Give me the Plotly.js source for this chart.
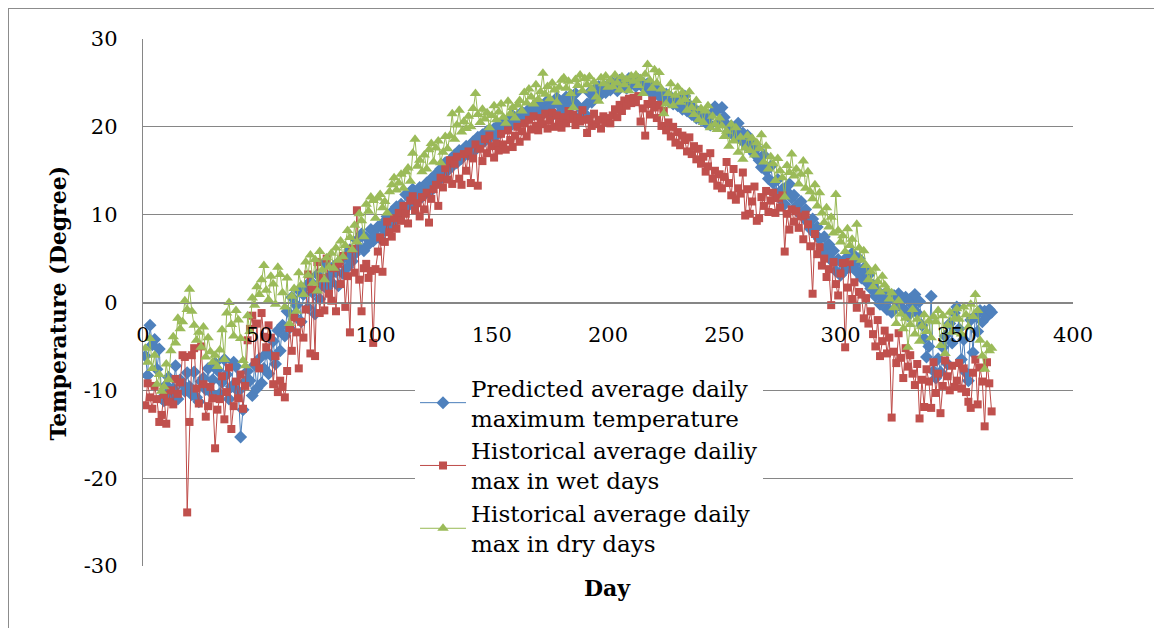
<!DOCTYPE html>
<html>
<head>
<meta charset="utf-8">
<script src="https://cdn.plot.ly/plotly-3.0.1.min.js"></script>
<style>
html,body{margin:0;padding:0;background:#fff;overflow:hidden;}
#frame{position:absolute;left:8px;top:8px;width:1160px;height:640px;border:1px solid #8c8c8c;box-sizing:border-box;}
#chart{position:absolute;left:0;top:0;width:1154px;height:628px;}
</style>
</head>
<body>
<div id="frame"></div>
<div id="chart"></div>
<script>
// Series values (days 1..365)
const predictedMax = [
-6.1,-8.3,-2.6,-4.8,-4.2,-7.6,-5.3,-10.9,-11.2,-9.4,
-8.5,-10.7,-9.8,-7.2,-11.0,-8.8,-9.3,-10.1,-8.0,-9.6,
-10.5,-7.9,-10.8,-11.3,-9.0,-8.6,-9.9,-7.5,-10.2,-8.8,
-6.9,-7.7,-10.4,-9.1,-6.5,-8.2,-11.0,-9.6,-6.8,-7.3,
-10.1,-15.3,-12.2,-9.0,-7.8,-8.9,-10.6,-7.1,-9.8,-6.4,
-9.2,-7.5,-5.8,-8.1,-6.0,-4.4,-7.0,-3.2,-5.5,-2.6,
-3.8,-1.0,-2.9,0.6,-1.5,-0.3,1.4,-2.2,0.9,1.8,
-0.6,2.4,1.1,-1.3,3.2,0.4,2.0,4.5,1.6,3.0,
2.3,4.1,3.5,1.9,4.8,3.3,5.2,4.0,6.0,4.7,
5.5,7.1,6.2,7.8,5.9,7.4,6.6,8.3,7.0,7.6,
8.6,7.3,9.0,8.2,9.8,8.8,10.3,9.2,10.9,9.6,
11.2,10.4,12.3,11.0,11.8,12.9,11.5,12.4,13.1,12.0,
12.8,13.6,12.5,14.1,13.3,14.6,13.8,15.2,14.4,15.9,
15.0,16.2,15.5,16.8,15.9,17.3,16.4,17.0,17.8,16.9,
17.6,18.3,17.4,18.8,18.0,19.1,18.4,19.5,18.7,19.2,
19.8,19.0,20.2,19.4,20.5,19.9,20.8,20.1,21.3,20.4,
21.0,20.6,21.7,20.9,21.4,22.0,21.2,22.3,21.6,22.8,
22.1,21.5,22.6,23.0,22.2,21.3,22.9,23.3,22.5,21.8,
22.7,23.4,22.0,23.6,22.9,23.8,22.4,21.2,22.0,21.5,
22.6,23.9,22.8,24.2,23.5,24.6,23.7,24.4,23.9,24.8,
24.2,25.0,24.5,24.1,25.3,24.7,25.1,24.4,25.5,24.9,
25.2,24.6,25.4,24.8,25.0,24.3,24.9,24.0,24.6,23.8,
24.3,23.5,24.0,23.2,23.7,22.9,23.4,22.6,23.1,22.4,
22.9,22.0,23.5,21.8,22.5,21.4,22.1,21.0,21.7,20.8,
21.3,20.5,21.0,20.2,21.6,22.3,21.9,20.6,22.2,21.1,
20.3,19.5,20.1,19.0,19.8,20.4,18.6,19.3,18.1,19.0,
17.5,18.3,16.9,17.6,16.2,15.4,16.8,15.0,14.1,15.5,
13.6,12.4,14.0,11.8,12.9,11.2,12.6,13.5,11.9,12.2,
11.0,10.2,11.5,9.8,10.6,9.1,8.4,9.5,7.8,8.6,
7.2,6.1,7.5,5.4,6.6,4.8,5.9,3.6,4.9,3.1,
4.4,3.7,5.2,4.0,5.6,4.3,3.5,5.0,2.8,3.9,
2.4,3.1,1.6,2.0,0.7,1.3,-0.2,0.5,1.0,-0.8,
0.3,-1.1,0.8,-0.5,1.0,0.2,-0.7,0.6,-1.5,0.4,
-0.3,0.9,-1.2,0.1,-2.6,-4.1,-6.2,-5.0,0.7,-7.8,
-8.6,-6.4,-7.9,-5.1,-3.8,-7.0,-2.4,-4.6,-1.2,-0.5,
-3.0,-6.5,-4.2,-8.0,-8.9,-2.0,-5.7,-1.5,-3.3,-0.9,
-2.2,-1.0,-1.6,-0.8,-1.1
];
const wetDaysMax = [
-11.7,-9.2,-10.8,-12.1,-9.5,-11.0,-13.6,-12.8,-10.5,-13.8,
-11.3,-10.0,-11.6,-8.7,-10.4,-9.1,-6.0,-6.2,-23.9,-13.6,
-6.0,-5.2,-9.8,-11.5,-5.0,-9.3,-13.0,-11.8,-9.6,-10.9,
-16.6,-12.2,-11.0,-8.4,-13.3,-10.2,-7.4,-14.4,-11.8,-9.0,
-10.9,-8.2,-12.1,-9.5,-4.3,-3.0,-1.5,-6.8,-2.4,-7.5,
-1.2,-3.9,-5.1,-2.6,-4.0,-9.3,-6.1,-10.2,-8.9,-9.6,
-10.8,-7.8,-2.9,-5.5,-1.7,-3.4,-7.5,-2.2,-4.0,-0.8,
3.2,-5.8,1.5,-6.1,4.6,-1.2,2.8,-0.9,5.0,1.0,
0.2,3.9,-1.0,4.4,2.1,5.3,-0.5,3.0,-3.4,6.1,
3.4,10.5,2.6,-1.0,3.9,4.4,2.8,3.6,-4.6,3.8,
5.8,7.4,3.5,6.9,9.2,8.0,7.5,9.6,8.4,10.2,
9.3,11.0,10.1,9.0,11.6,12.1,10.5,11.3,9.8,12.0,
10.6,12.5,9.1,11.8,12.9,13.4,11.0,14.2,13.1,15.3,
14.0,16.2,13.5,15.8,16.6,14.1,13.4,16.9,15.0,17.2,
13.6,16.4,18.0,13.3,17.5,16.1,18.6,17.0,19.0,17.8,
16.5,18.1,17.3,19.2,18.0,17.4,19.6,18.5,17.7,19.0,
20.0,18.3,19.5,20.4,18.9,20.8,19.7,21.2,20.1,19.6,
21.0,20.3,21.5,19.8,20.7,21.6,20.0,21.3,20.5,19.9,
21.1,20.4,21.8,20.9,21.4,20.2,21.0,20.6,21.9,20.8,
19.3,20.9,20.1,21.5,20.3,20.8,19.8,21.2,20.5,21.0,
20.4,21.3,22.0,21.1,22.5,21.8,23.0,22.4,23.2,22.7,
23.3,22.8,23.5,20.6,22.1,19.0,22.6,21.4,23.0,22.2,
21.0,22.5,20.1,21.8,19.6,20.5,18.9,20.0,18.2,19.4,
17.9,19.0,18.5,17.2,18.8,16.9,17.8,16.3,17.5,15.8,
16.6,14.9,15.5,17.0,14.1,15.0,13.3,14.6,13.0,14.3,
16.0,13.6,12.2,15.2,11.7,13.0,12.4,14.8,9.9,12.9,
10.1,11.5,13.2,9.3,9.6,12.0,11.0,12.7,10.3,11.6,
12.5,10.2,11.9,10.8,12.2,5.8,10.1,8.3,10.6,9.2,
10.4,8.5,9.8,7.2,10.0,8.9,6.4,1.0,7.8,5.5,
6.3,4.2,5.0,2.9,3.8,-0.3,4.6,2.1,0.8,3.3,
4.5,-5.1,1.7,4.6,0.4,2.3,-0.6,1.2,0.9,-1.8,
0.5,-2.4,-1.0,-3.6,-5.0,-2.0,-6.1,-4.4,-3.2,-5.8,
-4.0,-13.1,-5.6,-6.9,-3.5,-6.3,-8.6,-5.2,-7.3,-6.0,
-8.1,-9.4,-7.0,-13.2,-8.8,-11.9,-7.6,-9.0,-12.0,-6.8,
-10.3,-8.1,-12.6,-9.5,-6.6,-8.4,-10.0,-7.2,-9.6,-8.9,
-6.9,-9.8,-7.5,-10.2,-11.3,-12.0,-8.0,-6.5,-11.6,-7.4,
-9.0,-14.1,-6.8,-9.2,-12.4
];
const dryDaysMax = [
-5.2,-6.8,-4.1,-7.5,-6.0,-9.3,-8.2,-10.1,-9.6,-7.0,
-8.8,-5.5,-3.9,-4.6,-1.8,-3.0,-2.2,0.2,-0.8,1.5,
-1.0,-2.6,-4.3,-3.4,-5.1,-2.8,-6.2,-4.0,-5.6,-6.8,
-6.0,-7.3,-5.4,-3.1,-6.5,-1.2,0.0,-2.5,-3.8,-0.9,
-2.0,-4.1,-6.6,-7.2,-1.5,-3.3,0.5,-0.3,1.8,0.9,
2.6,4.2,1.4,0.3,3.0,2.1,-0.2,4.0,3.2,1.1,
-0.5,2.8,-2.4,0.7,1.6,-1.0,3.4,2.0,0.9,4.6,
3.1,5.4,2.2,4.9,1.3,5.8,3.7,2.6,5.1,4.0,
5.6,3.9,6.2,4.8,7.0,5.2,6.5,8.2,7.4,6.0,
8.8,6.9,10.1,9.3,7.5,11.2,10.4,12.0,11.6,9.6,
11.9,12.3,10.8,11.5,10.2,12.6,13.4,14.2,12.8,13.6,
14.6,13.0,14.9,15.3,13.8,17.0,18.6,15.5,16.2,14.9,
16.8,15.2,17.4,18.1,16.0,17.6,18.4,15.9,17.1,18.9,
17.5,19.0,21.5,18.6,20.2,21.9,19.4,20.6,19.8,21.2,
20.0,22.1,23.8,21.4,20.5,22.0,20.9,21.6,19.9,21.3,
22.4,20.8,21.7,22.6,21.1,20.4,22.9,21.5,22.2,21.0,
22.5,23.0,21.8,23.9,22.7,24.3,23.4,22.6,24.8,23.1,
24.0,26.1,23.7,24.6,23.2,25.0,24.2,22.8,24.5,25.3,
25.6,24.4,25.2,23.8,22.2,25.4,24.7,25.9,24.1,25.5,
24.8,25.7,24.3,25.1,23.4,22.9,25.6,24.9,25.8,24.5,
25.3,24.6,25.9,25.0,24.2,25.7,24.8,25.4,24.1,25.8,
25.2,25.9,24.7,25.5,23.8,26.0,27.1,25.3,24.4,26.5,
25.0,26.2,24.3,21.5,22.6,23.8,24.9,22.4,23.6,24.5,
22.8,23.9,23.1,21.9,24.0,22.2,21.4,23.0,20.8,22.1,
20.5,21.8,22.4,19.9,21.2,20.3,19.7,21.0,20.1,18.9,
19.5,17.8,20.3,18.4,19.9,17.1,18.8,16.3,17.6,19.0,
17.3,18.7,16.8,18.2,17.5,19.1,16.0,17.8,15.2,16.6,
15.8,13.9,16.4,15.0,14.2,12.0,15.6,14.8,16.9,14.4,
15.2,13.5,14.6,16.1,13.0,14.9,12.6,11.8,13.4,11.0,
12.5,10.2,9.1,10.8,8.6,9.7,7.9,12.3,8.2,6.9,
7.6,5.8,8.4,6.5,7.2,5.1,8.9,6.2,4.8,5.9,
4.2,2.6,3.5,1.8,3.9,2.4,1.2,3.0,2.0,1.5,
0.4,1.1,-0.6,-2.4,0.2,-1.3,-3.0,-1.8,-5.1,-2.5,
-0.8,-3.6,-1.9,-4.4,-2.7,-1.4,-3.3,-2.1,-4.0,-1.6,
-2.2,-0.9,-4.9,-1.5,-5.8,-2.6,-1.1,-3.4,-1.8,-0.7,
-1.9,-3.6,-0.5,-1.4,-2.8,-0.2,-1.6,0.9,-0.9,-4.3,
-6.1,-7.6,-4.8,-5.5,-5.2
];
const seriesNames = [
  "Predicted average daily<br>maximum temperature",
  "Historical average dailiy<br>max in wet days",
  "Historical average daily<br>max in dry days"
];
const xTickVals = [0,50,100,150,200,250,300,350,400];
const yTickVals = [-30,-20,-10,0,10,20,30];
const days = predictedMax.map((v,i)=>i+1);

const FONT = "DejaVu Serif, Liberation Serif, serif";

function trace(y, name, color, lineColor, symbol, size){
  return {
    x: days, y: y, name: name, type: "scatter", mode: "lines+markers",
    line: {color: lineColor, width: 1},
    marker: {color: color, symbol: symbol, size: size, line: {width: 0}},
    hoverinfo: "skip"
  };
}
const data = [
  trace(predictedMax, seriesNames[0], "#4F81BD", "#4A7EBB", "diamond", 10),
  trace(wetDaysMax, seriesNames[1], "#C0504D", "#BE4B48", "square", 8),
  trace(dryDaysMax, seriesNames[2], "#9BBB59", "#98B954", "triangle-up", 10)
];

const layout = {
  width: 1154, height: 628,
  margin: {l: 143, r: 81, t: 39, b: 62, pad: 0},
  paper_bgcolor: "rgba(0,0,0,0)", plot_bgcolor: "rgba(0,0,0,0)",
  font: {family: FONT, color: "#000", size: 20},
  showlegend: true,
  legend: {
    x: 0.2925, y: 0.379, xanchor: "left", yanchor: "top",
    bgcolor: "#ffffff", borderwidth: 0,
    font: {family: FONT, size: 23, color: "#000"},
    tracegroupgap: 0, itemwidth: 46
  },
  xaxis: {
    range: [0, 400], tickvals: xTickVals, ticktext: xTickVals.map(String),
    anchor: "free", position: 0.5,
    showgrid: false, zeroline: false,
    showline: true, linecolor: "#868686", linewidth: 1.3,
    ticks: "outside", ticklen: 13, tickcolor: "rgba(0,0,0,0)",
    tickfont: {family: FONT, size: 21, color: "#000"}
  },
  yaxis: {
    range: [-30, 30], tickvals: yTickVals, ticktext: yTickVals.map(String),
    showgrid: true, gridcolor: "#868686", gridwidth: 1.3,
    zeroline: false, showline: true, linecolor: "#868686", linewidth: 1.3,
    ticks: "outside", ticklen: 20, tickcolor: "rgba(0,0,0,0)",
    tickfont: {family: FONT, size: 21, color: "#000"}
  },
  annotations: [
    {text: "<b>Temperature (Degree)</b>", xref: "paper", yref: "paper",
     x: -0.0914, y: 0.5, xanchor: "center", yanchor: "middle", textangle: -90,
     showarrow: false, font: {family: FONT, size: 22, color: "#000"}},
    {text: "<b>Day</b>", xref: "paper", yref: "paper",
     x: 0.499, y: -0.042, xanchor: "center", yanchor: "middle",
     showarrow: false, font: {family: FONT, size: 22, color: "#000"}}
  ]
};

Plotly.newPlot("chart", data, layout, {staticPlot: true, displayModeBar: false});
</script>
</body>
</html>
